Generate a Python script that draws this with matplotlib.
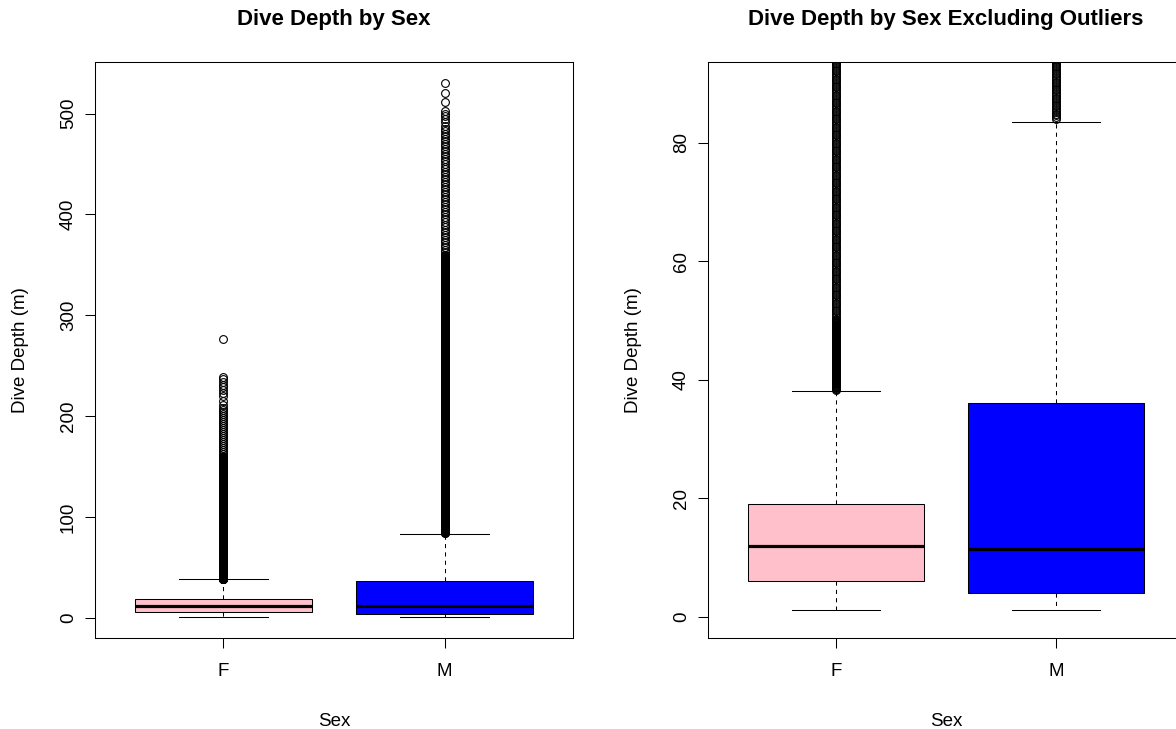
import numpy as np
import matplotlib.pyplot as plt

plt.rcParams['font.family'] = ['Liberation Sans', 'DejaVu Sans']

# Box summary per sex (dive depth, m)
sexes = ['F', 'M']
box_colors = ['pink', 'blue']
whisker_low = [1.1, 1.1]
q1 = [6.0, 4.0]
medians = [12.0, 11.5]
q3 = [19.0, 36.0]
whisker_high = [38.0, 83.5]

# Outliers: dense runs of recorded depths (start, stop, resolution) plus isolated deep dives
outlier_runs_f = [(38.3, 50.0, 0.1), (50.0, 160.0, 0.3), (160.0, 210.0, 2.0)]
outliers_f = [211, 215, 219.5, 222.8, 226, 228.6, 231, 233.5, 237, 239, 276]
outlier_runs_m = [(84.0, 360.0, 0.3), (360.0, 490.0, 2.5)]
outliers_m = [492, 495, 498, 500, 503, 511, 520, 530]

left_yticks = [0, 100, 200, 300, 400, 500]
right_yticks = [0, 20, 40, 60, 80]
right_ylim = (0, 90)

W, H = 1176, 729


def expand(runs, singles):
    parts = [np.arange(a, b, s) for a, b, s in runs]
    return np.concatenate(parts + [np.array(singles, dtype=float)])


def build_stats():
    fliers = [expand(outlier_runs_f, outliers_f), expand(outlier_runs_m, outliers_m)]
    stats = []
    for i, name in enumerate(sexes):
        stats.append(dict(label=name, whislo=whisker_low[i], q1=q1[i], med=medians[i],
                          q3=q3[i], whishi=whisker_high[i], fliers=fliers[i]))
    return stats


def pad_range(lo, hi):
    # R-style 4% expansion of the axis range
    d = (hi - lo) * 0.04
    return lo - d, hi + d


def draw_panel(ax, stats, ylim, yticks):
    res = ax.bxp(stats, positions=[1, 2], widths=0.8, capwidths=0.4, patch_artist=True,
                 boxprops=dict(edgecolor='black', linewidth=0.75),
                 medianprops=dict(color='black', linewidth=2.3, solid_capstyle='butt'),
                 whiskerprops=dict(color='black', linewidth=0.75, linestyle=(0, (4, 4))),
                 capprops=dict(color='black', linewidth=0.75),
                 flierprops=dict(marker='o', markerfacecolor='none', markeredgecolor='black',
                                 markersize=5.6, markeredgewidth=0.8, linestyle='none'))
    for patch, c in zip(res['boxes'], box_colors):
        patch.set_facecolor(c)

    ax.set_xlim(0.42, 2.58)
    ax.set_ylim(*ylim)
    ax.set_xticks([1, 2])
    ax.set_xticklabels(sexes)
    ax.set_yticks(yticks)
    ax.set_yticklabels([str(t) for t in yticks], rotation=90, va='center')
    ax.tick_params(axis='both', length=7, width=0.75, labelsize=13.5, color='black')
    ax.tick_params(axis='x', pad=11)
    ax.tick_params(axis='y', pad=6)
    for sp in ax.spines.values():
        sp.set_linewidth(0.75)
        sp.set_color('black')


stats = build_stats()
all_vals = np.concatenate([s['fliers'] for s in stats] + [np.array(whisker_low)])

fig = plt.figure(figsize=(W / 100, H / 100), dpi=100)
ax1 = fig.add_axes([95 / W, 91 / H, 478 / W, 576 / H])
ax2 = fig.add_axes([708 / W, 91 / H, 476 / W, 576 / H])

draw_panel(ax1, stats, pad_range(all_vals.min(), all_vals.max()), left_yticks)
draw_panel(ax2, stats, pad_range(*right_ylim), right_yticks)

# titles and axis labels
panels = [(ax1, 334, 21, 'Dive Depth by Sex'),
          (ax2, 946, 634, 'Dive Depth by Sex Excluding Outliers')]
for ax, cx, ylab_x, title in panels:
    fig.text(cx / W, 1 - 20 / H, title, ha='center', va='center', fontsize=16, fontweight='bold')
    fig.text(cx / W, 1 - 721 / H, 'Sex', ha='center', va='center', fontsize=13.5)
    fig.text(ylab_x / W, 1 - 350 / H, 'Dive Depth (m)', ha='center', va='center',
             rotation=90, fontsize=13.5)

fig.savefig('out.png', dpi=100)
